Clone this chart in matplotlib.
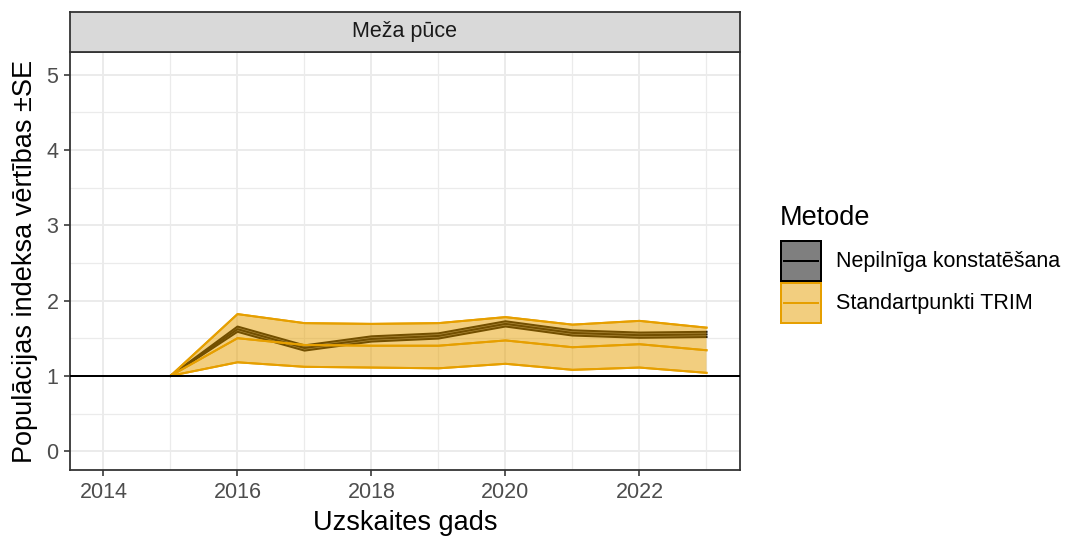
import matplotlib
matplotlib.use("Agg")
import matplotlib.pyplot as plt
from matplotlib.patches import Rectangle
from matplotlib.lines import Line2D
from matplotlib.ticker import MultipleLocator
import numpy as np

plt.rcParams['font.family'] = ['Liberation Sans', 'DejaVu Sans']

years = [2015, 2016, 2017, 2018, 2019, 2020, 2021, 2022, 2023]
nepilniga_index = [1.00, 1.62, 1.37, 1.49, 1.53, 1.69, 1.57, 1.54, 1.55]
nepilniga_se = [0.00, 0.035, 0.035, 0.035, 0.035, 0.035, 0.035, 0.035, 0.035]
trim_index = [1.00, 1.50, 1.41, 1.40, 1.40, 1.47, 1.38, 1.42, 1.34]
trim_se = [0.00, 0.32, 0.29, 0.29, 0.30, 0.31, 0.30, 0.31, 0.30]

series_labels = ["Nepilnīga konstatēšana", "Standartpunkti TRIM"]
series_colors = ["#000000", "#E69F00"]
legend_title = "Metode"
panel_title = "Meža pūce"
x_label = "Uzskaites gads"
y_label = "Populācijas indeksa vērtības ±SE"
x_ticks = [2014, 2016, 2018, 2020, 2022]
y_ticks = [0, 1, 2, 3, 4, 5]

W, H = 1082, 540
fig = plt.figure(figsize=(W / 100, H / 100), dpi=100)
px = 72 / 100  # points per pixel


def fx(x):
    return x / W


def fy(y):
    return 1 - y / H


left, right, top, bottom = 70, 740, 52, 470
ax = fig.add_axes([fx(left), fy(bottom), (right - left) / W, (bottom - top) / H])
ax.set_xlim(2013.5, 2023.5)
ax.set_ylim(-0.25, 5.3)

ax.xaxis.set_major_locator(plt.FixedLocator(x_ticks))
ax.yaxis.set_major_locator(plt.FixedLocator(y_ticks))
ax.xaxis.set_minor_locator(MultipleLocator(1))
ax.yaxis.set_minor_locator(MultipleLocator(0.5))
ax.grid(which='major', color='#EBEBEB', linewidth=2.0 * px)
ax.grid(which='minor', color='#EBEBEB', linewidth=1.2 * px)
ax.set_axisbelow(True)
ax.tick_params(which='minor', length=0)
ax.tick_params(which='major', length=6 * px, width=1.6 * px, color='#333333',
               labelsize=15.5, labelcolor='#4D4D4D', pad=4)
for s in ax.spines.values():
    s.set_color('#333333')
    s.set_linewidth(1.8 * px)

yrs = np.array(years)
data = [(np.array(nepilniga_index), np.array(nepilniga_se)),
        (np.array(trim_index), np.array(trim_se))]
lw = 2.0 * px
z = 2
for (idx, se), col in zip(data, series_colors):
    lo, hi = idx - se, idx + se
    ax.plot(yrs, lo, color=col, linewidth=lw, zorder=z)
    ax.plot(yrs, hi, color=col, linewidth=lw, zorder=z)
    ax.plot(yrs, idx, color=col, linewidth=lw, zorder=z)
    ax.fill_between(yrs, lo, hi, facecolor=col, alpha=0.5, linewidth=0, zorder=z + 0.5)
    z += 1
idx, se = data[1]
ax.plot(yrs, idx - se, color=series_colors[1], linewidth=lw, zorder=z)
ax.plot(yrs, idx + se, color=series_colors[1], linewidth=lw, zorder=z)
ax.plot(yrs, idx, color=series_colors[1], linewidth=lw, zorder=z)

ax.axhline(1, color='black', linewidth=2.0 * px, zorder=10)

ax.set_xlabel(x_label, fontsize=19.5, color='black', labelpad=5)
ax.set_ylabel(y_label, fontsize=19.5, color='black', labelpad=6)

# strip
strip_top = 12
sax = fig.add_axes([fx(left), fy(top), (right - left) / W, (top - strip_top) / H])
sax.set_xticks([]); sax.set_yticks([])
sax.set_facecolor('#D9D9D9')
for s in sax.spines.values():
    s.set_color('#333333')
    s.set_linewidth(1.8 * px)
sax.text(0.5, 0.5, panel_title, ha='center', va='center', fontsize=15.5,
         color='#1A1A1A', transform=sax.transAxes)

# legend (manual)
fig.text(fx(780), fy(225), legend_title, fontsize=19.5, color='black',
         ha='left', va='baseline')
key_x0, key_x1 = 781, 821
key_h = 42
key_top = 241
for i, (lab, col) in enumerate(zip(series_labels, series_colors)):
    y0 = key_top + i * key_h
    fig.add_artist(Rectangle((fx(key_x0), fy(y0 + key_h - 2)),
                             (key_x1 - key_x0) / W, (key_h - 2) / H,
                             transform=fig.transFigure, facecolor=col, alpha=0.5,
                             edgecolor='none'))
    fig.add_artist(Rectangle((fx(key_x0), fy(y0 + key_h - 2)),
                             (key_x1 - key_x0) / W, (key_h - 2) / H,
                             transform=fig.transFigure, facecolor='none',
                             edgecolor=col, linewidth=2.0 * px))
    yc = y0 + (key_h - 2) / 2
    fig.add_artist(Line2D([fx(key_x0 + 3), fx(key_x1 - 3)], [fy(yc), fy(yc)],
                          transform=fig.transFigure, color=col, linewidth=lw))
    fig.text(fx(836), fy(yc), lab, fontsize=15.5, color='black',
             ha='left', va='center')

fig.savefig("out.png", dpi=100)
